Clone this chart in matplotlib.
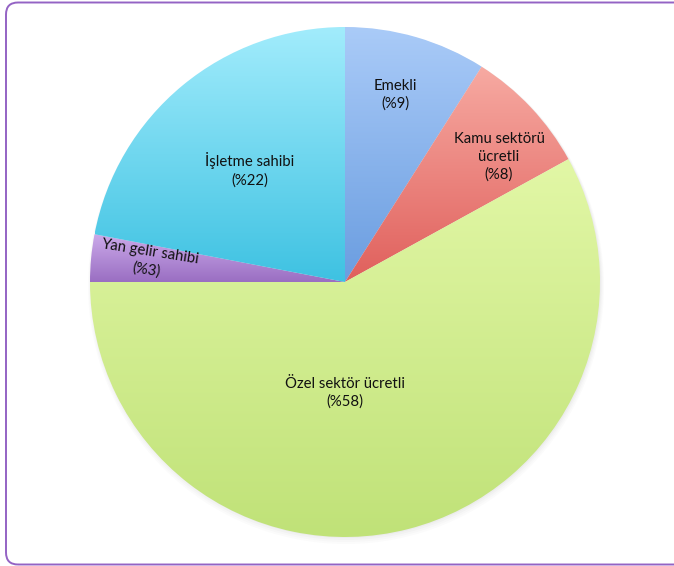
import numpy as np
import matplotlib
matplotlib.use("Agg")
import matplotlib.pyplot as plt
from matplotlib.colors import LinearSegmentedColormap
from matplotlib.patches import FancyBboxPatch, Circle

plt.rcParams['font.family'] = ['Lato', 'DejaVu Sans']

# data, clockwise from the top
labels = ["Emekli", "Kamu sektörü\nücretli", "Özel sektör ücretli", "Yan gelir sahibi", "İşletme sahibi"]
shares = [9, 8, 58, 3, 22]
top_colors = ["#aacbf8", "#f7aaa2", "#e2f7a6", "#cbaaea", "#a2ecfc"]
bottom_colors = ["#6a9de0", "#e0605c", "#c0e278", "#9a6ec2", "#3ec2e2"]

W, H = 674, 566
cx, cy, r = 345, H - 282, 255

fig = plt.figure(figsize=(W / 100, H / 100), dpi=100)
ax = fig.add_axes([0, 0, 1, 1])

# frame
frame = FancyBboxPatch((6, 1.5), W + 20, H - 4, boxstyle="round,pad=0,rounding_size=12",
                       fill=False, edgecolor="#9463c4", linewidth=1.4)
ax.add_patch(frame)

# soft shadow
for i, a in enumerate([0.03, 0.03, 0.04, 0.05]):
    ax.add_patch(Circle((cx + 1, cy - 4 + i), r + 3 - i, color="#808080", alpha=a, lw=0))

wedges, _ = ax.pie(shares, startangle=90, counterclock=False, center=(cx, cy), radius=r,
                   wedgeprops=dict(linewidth=0), frame=True)
ax.set_xlim(0, W)
ax.set_ylim(0, H)
ax.set_aspect("equal")
ax.axis("off")

grad = np.linspace(0, 1, 256).reshape(-1, 1)
for w, c0, c1 in zip(wedges, top_colors, bottom_colors):
    w.set_facecolor("none")
    bb = w.get_path().get_extents()
    cmap = LinearSegmentedColormap.from_list("g", [c0, c1])
    im = ax.imshow(grad, cmap=cmap, extent=(bb.x0, bb.x1, bb.y0, bb.y1),
                   origin="upper", aspect="auto", zorder=2)
    im.set_clip_path(w)

txt = dict(ha="center", va="center", fontsize=10.7, color="#111111", zorder=5, linespacing=1.35)
ax.text(395, H - 95, f"{labels[0]}\n(%{shares[0]})", **txt)
ax.text(499, H - 157, f"{labels[1]}\n(%{shares[1]})", **txt)
ax.text(345, H - 393, f"{labels[2]}\n(%{shares[2]})", **txt)
ax.text(148, H - 261, f"{labels[3]}\n(%{shares[3]})", rotation=-9, rotation_mode="anchor", **txt)
ax.text(250, H - 170, f"{labels[4]}\n(%{shares[4]})", **txt)

fig.savefig("out.png", dpi=100)
